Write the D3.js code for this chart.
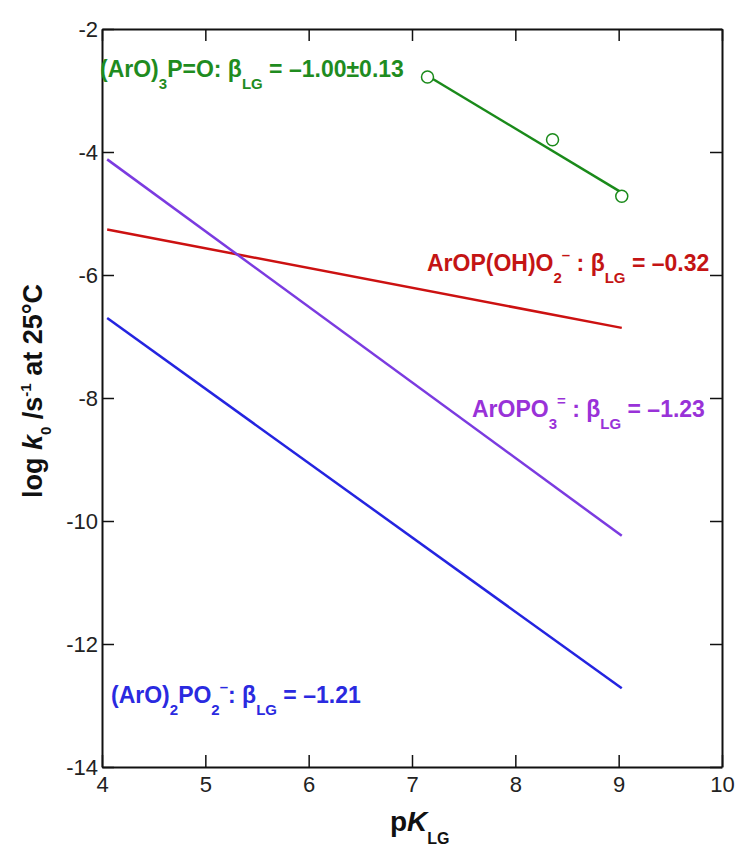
<!DOCTYPE html>
<html lang="en">
<head>
<meta charset="UTF-8">
<title>log k0 vs pKLG</title>
<script src="https://cdn.jsdelivr.net/npm/d3@7"></script>
<style>
  body { margin: 0; background: #fff; }
  text { font-family: "Liberation Sans", Arial, sans-serif; }
</style>
</head>
<body>
<div id="container"></div>
<script>
// data
const xTicks = [4, 5, 6, 7, 8, 9, 10];
const yTicks = [-2, -4, -6, -8, -10, -12, -14];

// fitted lines: [pKLG, log k0] at both ends
const lineNames = ["triester", "monoanion", "dianion", "diester"];
const lineColors = ["#1a8a1a", "#cc1111", "#7b3be0", "#2424e0"];
const lineStarts = [[7.15, -2.76], [4.05, -5.26], [4.05, -4.12], [4.05, -6.70]];
const lineEnds = [[9.03, -4.66], [9.03, -6.86], [9.03, -10.24], [9.03, -12.72]];

// measured points for (ArO)3P=O
const pointX = [7.15, 8.36, 9.03];
const pointY = [-2.78, -3.80, -4.72];

const width = 740, height = 848;
const margin = {top: 29, right: 18, bottom: 81, left: 102};

const svg = d3.select("#container").append("svg")
  .attr("width", width)
  .attr("height", height);

const x = d3.scaleLinear().domain([4, 10]).range([margin.left, width - margin.right]);
const y = d3.scaleLinear().domain([-14, -2]).range([height - margin.bottom, margin.top]);

// frame axes, ticks pointing in
const tickLen = 12;
svg.append("g")
  .attr("transform", `translate(0,${y(-14)})`)
  .call(d3.axisBottom(x).tickValues(xTicks).tickSizeInner(-tickLen).tickSizeOuter(0).tickPadding(6).tickFormat(d3.format("d")))
  .call(g => g.selectAll("text").attr("font-size", 22).attr("fill", "#222").attr("dy", "0.85em"));
svg.append("g")
  .attr("transform", `translate(0,${y(-2)})`)
  .call(d3.axisTop(x).tickValues(xTicks).tickSizeInner(-tickLen).tickSizeOuter(0).tickFormat(""));
svg.append("g")
  .attr("transform", `translate(${x(4)},0)`)
  .call(d3.axisLeft(y).tickValues(yTicks).tickSizeInner(-tickLen).tickSizeOuter(0).tickPadding(4).tickFormat(d => d3.format("d")(d).replace("−", "-")))
  .call(g => g.selectAll("text").attr("font-size", 22).attr("fill", "#222"));
svg.append("g")
  .attr("transform", `translate(${x(10)},0)`)
  .call(d3.axisRight(y).tickValues(yTicks).tickSizeInner(-tickLen).tickSizeOuter(0).tickFormat(""));
svg.selectAll(".domain").attr("stroke", "#111").attr("stroke-width", 2);
svg.selectAll(".tick line").attr("stroke", "#111").attr("stroke-width", 1.5);

// lines
lineNames.forEach((name, i) => {
  svg.append("line")
    .attr("class", "fit " + name)
    .attr("x1", x(lineStarts[i][0])).attr("y1", y(lineStarts[i][1]))
    .attr("x2", x(lineEnds[i][0])).attr("y2", y(lineEnds[i][1]))
    .attr("stroke", lineColors[i])
    .attr("stroke-width", 2.5);
});

svg.selectAll("circle.pt")
  .data(pointX.map((v, i) => [v, pointY[i]]))
  .join("circle")
  .attr("class", "pt")
  .attr("cx", d => x(d[0]))
  .attr("cy", d => y(d[1]))
  .attr("r", 6)
  .attr("fill", "#fff")
  .attr("stroke", lineColors[0])
  .attr("stroke-width", 1.5);

// labels: pieces of [text, shift] where shift is "sub", "sup" or ""
function label(px, py, color, parts) {
  const t = svg.append("text")
    .attr("x", px).attr("y", py)
    .attr("fill", color)
    .attr("font-weight", "bold")
    .attr("font-size", 23);
  let shift = 0;
  parts.forEach(([s, kind]) => {
    const target = kind === "sub" ? 12 : kind === "sup" ? -11 : 0;
    t.append("tspan")
      .attr("dy", target - shift)
      .attr("font-size", kind ? 15 : 23)
      .text(s);
    shift = target;
  });
  return t;
}

label(100, 77, "#1f8c1f", [["(ArO)", ""], ["3", "sub"], ["P=O: β", ""], ["LG", "sub"], [" = –1.00±0.13", ""]]);
label(427, 271, "#c41414", [["ArOP(OH)O", ""], ["2", "sub"], ["–", "sup"], [" : β", ""], ["LG", "sub"], [" = –0.32", ""]]);
label(472, 417, "#9932d8", [["ArOPO", ""], ["3", "sub"], ["=", "sup"], [" : β", ""], ["LG", "sub"], [" = –1.23", ""]]);
label(111, 703, "#2a2ae0", [["(ArO)", ""], ["2", "sub"], ["PO", ""], ["2", "sub"], ["–", "sup"], [": β", ""], ["LG", "sub"], [" = –1.21", ""]]);

// axis titles
const xt = svg.append("text")
  .attr("x", 390).attr("y", 831)
  .attr("font-size", 28).attr("font-weight", "bold").attr("fill", "#111");
xt.append("tspan").text("p");
xt.append("tspan").attr("font-style", "italic").text("K");
xt.append("tspan").attr("font-size", 16).attr("dy", 13).text("LG");

const yt = svg.append("text")
  .attr("transform", "translate(42,391) rotate(-90)")
  .attr("font-size", 27).attr("font-weight", "bold").attr("fill", "#111")
  .attr("text-anchor", "middle");
yt.append("tspan").text("log ");
yt.append("tspan").attr("font-style", "italic").text("k");
yt.append("tspan").attr("font-size", 15).attr("dy", 9).text("0");
yt.append("tspan").attr("dy", -9).text(" /s");
yt.append("tspan").attr("font-size", 15).attr("dy", -11).text("-1");
yt.append("tspan").attr("dy", 11).text(" at 25°C");
</script>
</body>
</html>
